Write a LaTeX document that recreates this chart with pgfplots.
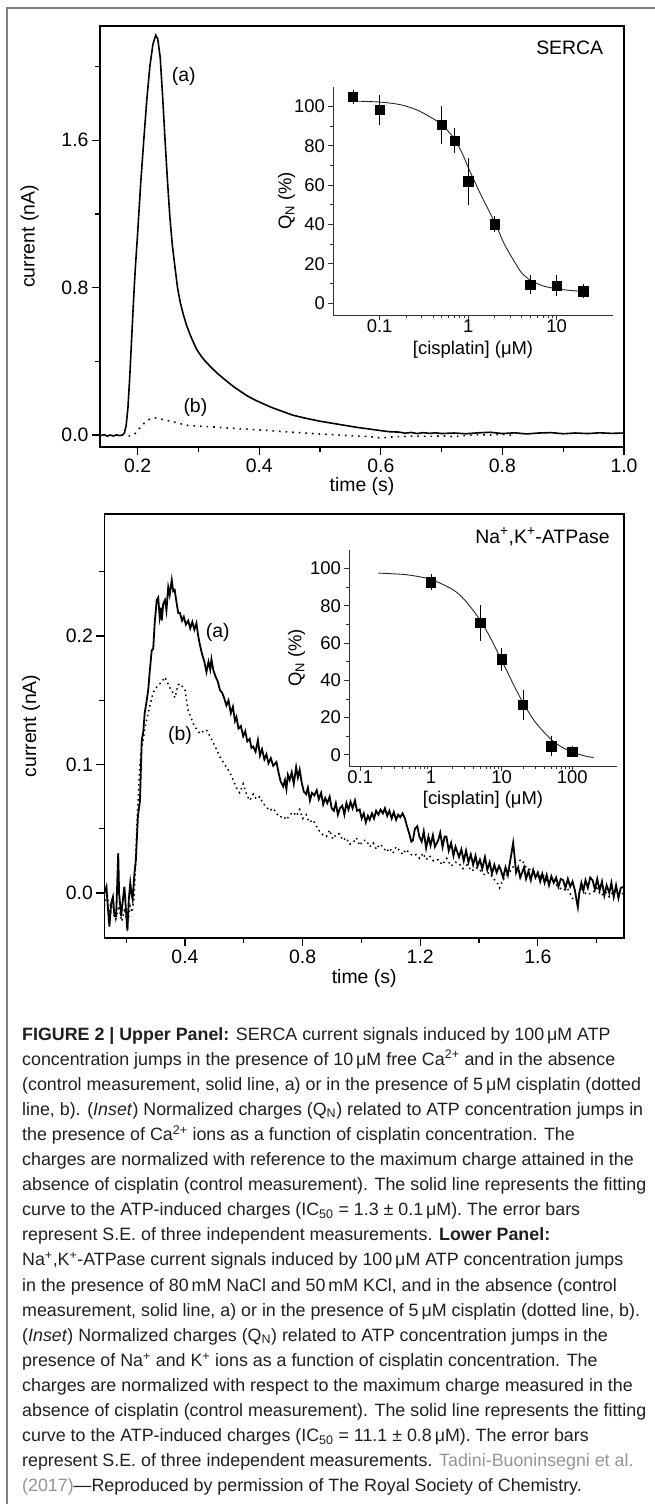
\documentclass[border=0pt]{standalone}
\usepackage{fontspec}
\setmainfont{Liberation Sans}
\usepackage{pgfplots}
\pgfplotsset{compat=1.18}

\newcommand\pf{\fontsize{19.5}{21}\selectfont}
\newcommand\insf{\fontsize{18.5}{20}\selectfont}
\newcommand\cf{\fontsize{17.9}{25}\selectfont}
\colorlet{captxt}{black!88}
\colorlet{linkgray}{black!42}

\pgfplotsset{
  mainax/.style={scale only axis, anchor=north west,
    axis line style={line width=1.3bp},
    tick align=outside, tick pos=left,
    major tick length=8bp, minor tick length=5bp,
    every tick/.style={line width=1.2bp,black},
    tick label style={font=\pf},
    label style={font=\pf},
    /pgf/number format/assume math mode=true,
    /pgf/number format/fixed,
    /pgf/number format/fixed zerofill,
    /pgf/number format/precision=1},
  inset/.style={scale only axis, anchor=north west,
    axis lines*=left,
    axis line style={line width=0.9bp,black!80},
    tick align=outside,
    major tick length=5bp, minor tick length=3bp,
    every tick/.style={line width=0.8bp,black!80},
    tick label style={font=\insf},
    xticklabel shift=-4bp,
    label style={font=\insf},
    /pgf/number format/assume math mode=true,
    ymin=-6, ymax=110,
    ytick={0,20,40,60,80,100}, minor ytick={10,30,50,70,90}},
  qmarks/.style={only marks, mark=square*, mark size=4.7bp, black,
    error bars/.cd, y dir=both, y explicit,
    error bar style={line width=0.8bp,black},
    error mark options={mark size=4bp,line width=0.8bp,black}},
}

\begin{document}
\begin{tikzpicture}[x=1bp,y=1bp]
\useasboundingbox (0,0) rectangle (655,-1504);
\draw[black!50, line width=1.5bp] (7,-1504) -- (7,-8) -- (655,-8);

% ---------- upper panel ----------
\begin{axis}[mainax, at={(100bp,-26bp)}, width=524bp, height=421bp,
  xmin=0.138, xmax=1.0, ymin=-0.065, ymax=2.22,
  xtick={0.2,0.4,0.6,0.8,1.0}, minor xtick={0.3,0.5,0.7,0.9},
  ytick={0,0.8,1.6}, minor ytick={0.4,1.2,2.0},
  xlabel={time (s)}, xlabel style={at={(axis description cs:0.5,-0.094)},anchor=center},
  ylabel={current (nA)}, ylabel style={at={(axis description cs:-0.1345,0.5)},anchor=center}]
\addplot[black, line width=1.6bp] coordinates {
(0.138,-0.004)(0.145,0.002)(0.150,-0.006)(0.155,0.000)(0.160,-0.005)(0.165,0.001)
(0.170,-0.003)(0.175,0.000)(0.178,0.01)(0.181,0.05)(0.184,0.15)(0.187,0.32)(0.190,0.52)
(0.193,0.72)(0.196,0.90)(0.200,1.10)(0.205,1.37)(0.210,1.60)(0.215,1.82)(0.220,2.00)
(0.225,2.12)(0.2297,2.17)(0.233,2.15)(0.237,2.05)(0.241,1.84)(0.245,1.60)(0.249,1.38)
(0.253,1.18)(0.257,1.03)(0.261,0.92)(0.2655,0.80)(0.270,0.72)(0.275,0.655)(0.280,0.60)
(0.285,0.555)(0.290,0.515)(0.297,0.465)(0.304,0.43)(0.310,0.405)(0.320,0.37)(0.330,0.338)
(0.340,0.31)(0.350,0.283)(0.358,0.262)(0.370,0.235)(0.380,0.213)(0.393,0.19)(0.405,0.172)
(0.420,0.15)(0.435,0.132)(0.455,0.108)(0.475,0.092)(0.500,0.075)(0.520,0.064)(0.538,0.054)
(0.560,0.042)(0.580,0.033)(0.600,0.024)(0.614,0.018)(0.63,0.016)(0.64,0.010)(0.65,0.014)
(0.66,0.008)(0.67,0.013)(0.68,0.009)(0.69,0.012)(0.70,0.008)(0.72,0.011)(0.74,0.007)
(0.76,0.012)(0.78,0.015)(0.80,0.008)(0.82,0.012)(0.84,0.006)(0.86,0.011)(0.88,0.013)
(0.90,0.007)(0.92,0.011)(0.94,0.008)(0.96,0.012)(0.98,0.009)(1.0,0.011)};
\addplot[black, line width=1.6bp, dash pattern=on 1.6bp off 5bp] coordinates {
(0.185,-0.005)(0.19,-0.004)(0.195,0.005)(0.20,0.025)(0.205,0.045)(0.21,0.062)(0.215,0.076)
(0.22,0.086)(0.225,0.091)(0.23,0.093)(0.235,0.09)(0.24,0.085)(0.25,0.078)(0.26,0.07)
(0.27,0.062)(0.283,0.052)(0.30,0.048)(0.32,0.045)(0.34,0.04)(0.36,0.036)(0.386,0.03)
(0.41,0.026)(0.44,0.018)(0.47,0.012)(0.497,0.006)(0.52,0.002)(0.55,-0.004)(0.58,-0.008)
(0.60,-0.016)(0.62,-0.01)(0.65,-0.006)(0.68,-0.008)(0.70,-0.004)(0.72,-0.009)(0.74,-0.002)
(0.76,0.002)(0.78,0.0)(0.80,0.004)(0.82,-0.003)};
\node[anchor=east, font=\pf] at (axis description cs:0.967,0.948) {SERCA};
\node[font=\pf] at (axis description cs:0.160,0.880) {(a)};
\node[font=\pf] at (axis description cs:0.182,0.094) {(b)};
\end{axis}

\begin{semilogxaxis}[inset, at={(333.3bp,-86.7bp)}, width=279.5bp, height=228.3bp,
  log ticks with fixed point,
  xmin=0.03, xmax=43, xtick={0.1,1,10},
  xlabel={[cisplatin] (μM)}, xlabel style={at={(axis description cs:0.5,-0.152)},anchor=center},
  ylabel={Q\textsubscript{N} (\%)}, ylabel style={at={(axis description cs:-0.167,0.5)},anchor=center}]
\addplot[black!85, line width=0.9bp, smooth] coordinates {
(0.05,102.7)(0.1,102.2)(0.17,100.9)(0.26,98.3)(0.36,95.0)(0.5,90.8)(0.7,83.5)(0.88,75.0)
(1.0,69.0)(1.36,56.0)(1.76,46.0)(2.1,39.0)(2.5,31.0)(3.0,24.5)(3.5,19.5)(4,15.5)(5,11.8)
(7,8.8)(10,7.3)(14,6.5)(20,6.0)};
\addplot[qmarks] table[x=x, y=y, y error=e] {
x y e
0.05 104.8 1.5
0.1 98.3 5.5
0.5 90.6 7.7
0.7 82.6 4.5
1 61.9 9.8
2 40.2 2
5 9.5 3
10 9.0 3.3
20 6.0 1.5
};
\end{semilogxaxis}

% ---------- lower panel ----------
\begin{axis}[mainax, at={(104.4bp,-514bp)}, width=519.6bp, height=424bp,
  xmin=0.126, xmax=1.893, ymin=-0.035, ymax=0.295,
  xtick={0.4,0.8,1.2,1.6}, minor xtick={0.2,0.6,1.0,1.4,1.8},
  ytick={0,0.1,0.2}, minor ytick={0.05,0.15,0.25},
  xlabel={time (s)}, xlabel style={at={(axis description cs:0.5,-0.095)},anchor=center},
  ylabel={current (nA)}, ylabel style={at={(axis description cs:-0.1413,0.5)},anchor=center}]
\addplot[black, line width=1.8bp] coordinates {
(0.126,0.000)(0.133,0.005)(0.138,-0.012)(0.143,-0.026)(0.149,-0.008)(0.155,-0.003)(0.160,-0.018)
(0.166,-0.018)(0.170,0.010)(0.173,0.031)(0.176,0.000)(0.183,-0.018)(0.189,-0.005)(0.194,0.005)
(0.199,-0.012)(0.204,-0.029)(0.209,-0.005)(0.214,0.008)(0.218,0.0)(0.222,-0.005)(0.228,0.015)
(0.233,0.026)(0.240,0.06)(0.247,0.072)(0.253,0.119)(0.258,0.125)(0.263,0.14)(0.270,0.150)
(0.275,0.158)(0.280,0.172)(0.287,0.189)(0.292,0.19)(0.297,0.21)(0.304,0.228)(0.309,0.23)
(0.314,0.215)(0.318,0.222)(0.321,0.212)(0.326,0.225)(0.332,0.228)(0.337,0.22)(0.343,0.238)
(0.348,0.232)(0.355,0.2436)(0.360,0.235)(0.365,0.236)(0.372,0.225)(0.377,0.218)(0.383,0.218)
(0.390,0.212)(0.396,0.215)(0.403,0.209)(0.411,0.212)(0.418,0.206)(0.425,0.211)(0.432,0.205)
(0.439,0.21)(0.445,0.20)(0.451,0.193)(0.458,0.186)(0.466,0.18)(0.473,0.172)(0.480,0.18)
(0.486,0.174)(0.490,0.182)(0.496,0.174)(0.503,0.169)(0.511,0.165)(0.519,0.158)(0.526,0.156)
(0.533,0.152)(0.541,0.146)(0.548,0.150)(0.556,0.14)(0.563,0.145)(0.570,0.134)(0.575,0.137)
(0.582,0.128)(0.590,0.13)(0.598,0.122)(0.605,0.126)(0.612,0.118)(0.620,0.12)(0.626,0.113)
(0.632,0.114)(0.640,0.11)(0.648,0.119)(0.655,0.107)(0.662,0.112)(0.670,0.104)(0.677,0.108)
(0.684,0.101)(0.692,0.105)(0.700,0.099)(0.711,0.102)(0.718,0.094)(0.725,0.087)(0.734,0.083)
(0.740,0.088)(0.745,0.081)(0.750,0.092)(0.756,0.088)(0.763,0.094)(0.770,0.085)(0.778,0.098)
(0.784,0.09)(0.790,0.096)(0.797,0.086)(0.804,0.079)(0.812,0.077)(0.818,0.082)(0.825,0.072)
(0.832,0.078)(0.840,0.076)(0.848,0.080)(0.855,0.073)(0.863,0.078)(0.870,0.069)(0.877,0.074)
(0.884,0.070)(0.892,0.075)(0.899,0.066)(0.906,0.064)(0.913,0.070)(0.920,0.061)(0.927,0.066)
(0.935,0.068)(0.942,0.061)(0.949,0.070)(0.956,0.065)(0.963,0.071)(0.970,0.066)(0.978,0.072)
(0.985,0.064)(0.994,0.065)(1.001,0.058)(1.008,0.062)(1.015,0.055)(1.022,0.060)(1.028,0.057)
(1.036,0.062)(1.043,0.058)(1.050,0.064)(1.058,0.061)(1.065,0.065)(1.073,0.062)(1.080,0.066)
(1.088,0.060)(1.095,0.064)(1.103,0.058)(1.110,0.063)(1.118,0.057)(1.125,0.061)(1.132,0.059)
(1.140,0.062)(1.148,0.058)(1.155,0.052)(1.163,0.046)(1.170,0.040)(1.175,0.041)(1.182,0.050)
(1.190,0.052)(1.197,0.044)(1.205,0.040)(1.212,0.048)(1.220,0.035)(1.228,0.044)(1.235,0.037)
(1.243,0.045)(1.250,0.036)(1.261,0.041)(1.268,0.047)(1.276,0.036)(1.283,0.044)(1.289,0.044)
(1.297,0.033)(1.305,0.039)(1.313,0.029)(1.320,0.036)(1.332,0.028)(1.340,0.034)(1.348,0.025)
(1.356,0.033)(1.364,0.024)(1.372,0.030)(1.380,0.022)(1.388,0.029)(1.395,0.021)(1.403,0.026)
(1.411,0.019)(1.420,0.028)(1.428,0.018)(1.436,0.024)(1.444,0.015)(1.452,0.022)(1.460,0.016)
(1.468,0.021)(1.474,0.018)(1.482,0.012)(1.490,0.020)(1.498,0.014)(1.506,0.025)(1.511,0.032)
(1.516,0.039)(1.521,0.028)(1.526,0.016)(1.533,0.020)(1.540,0.012)(1.545,0.015)(1.553,0.020)
(1.560,0.011)(1.568,0.017)(1.576,0.010)(1.584,0.018)(1.592,0.012)(1.600,0.016)(1.608,0.009)
(1.615,0.015)(1.623,0.008)(1.630,0.014)(1.638,0.006)(1.646,0.013)(1.654,0.008)(1.662,0.012)
(1.670,0.005)(1.678,0.011)(1.686,0.010)(1.694,0.004)(1.702,0.011)(1.710,0.005)(1.718,0.009)
(1.726,0.002)(1.732,-0.006)(1.736,-0.011)(1.741,0.000)(1.748,0.008)(1.755,0.002)(1.762,0.010)
(1.770,0.004)(1.778,0.012)(1.786,0.010)(1.794,0.003)(1.802,0.011)(1.810,0.002)(1.818,0.009)
(1.826,-0.002)(1.834,0.006)(1.843,0.000)(1.850,0.008)(1.858,-0.003)(1.866,0.006)(1.874,-0.004)
(1.882,0.004)(1.892,0.005)};
\addplot[black, line width=1.5bp, dash pattern=on 1.5bp off 3.5bp] coordinates {
(0.126,-0.01)(0.135,0.0)(0.145,-0.018)(0.155,-0.006)(0.165,-0.02)(0.175,-0.01)(0.185,-0.022)
(0.195,-0.012)(0.205,-0.026)(0.213,-0.01)(0.22,-0.015)(0.226,-0.005)(0.232,0.02)(0.236,0.05)
(0.239,0.065)(0.242,0.08)(0.247,0.10)(0.252,0.112)(0.258,0.119)(0.265,0.13)(0.275,0.140)
(0.283,0.148)(0.292,0.156)(0.303,0.160)(0.315,0.163)(0.323,0.165)(0.332,0.168)(0.340,0.164)
(0.348,0.160)(0.355,0.158)(0.360,0.155)(0.366,0.152)(0.372,0.158)(0.377,0.162)(0.383,0.163)
(0.390,0.161)(0.395,0.160)(0.40,0.158)(0.405,0.150)(0.411,0.142)(0.418,0.138)(0.428,0.132)
(0.438,0.128)(0.451,0.124)(0.462,0.126)(0.473,0.127)(0.485,0.122)(0.496,0.117)(0.507,0.112)
(0.519,0.106)(0.530,0.102)(0.541,0.098)(0.552,0.094)(0.564,0.088)(0.575,0.082)(0.586,0.078)
(0.598,0.085)(0.609,0.077)(0.62,0.072)(0.632,0.077)(0.643,0.073)(0.654,0.075)(0.665,0.070)
(0.677,0.067)(0.688,0.064)(0.70,0.066)(0.711,0.062)(0.723,0.059)(0.734,0.06)(0.745,0.057)
(0.757,0.061)(0.768,0.063)(0.779,0.06)(0.79,0.065)(0.80,0.058)(0.812,0.061)(0.823,0.055)
(0.835,0.057)(0.847,0.052)(0.858,0.048)(0.870,0.045)(0.881,0.044)(0.892,0.049)(0.903,0.042)
(0.915,0.046)(0.926,0.046)(0.937,0.041)(0.948,0.043)(0.960,0.038)(0.971,0.039)(0.983,0.043)
(0.994,0.037)(1.006,0.041)(1.017,0.041)(1.028,0.036)(1.040,0.039)(1.051,0.034)(1.062,0.038)
(1.073,0.036)(1.085,0.032)(1.096,0.035)(1.107,0.031)(1.118,0.036)(1.13,0.033)(1.141,0.030)
(1.152,0.034)(1.163,0.031)(1.175,0.029)(1.186,0.030)(1.198,0.027)(1.21,0.031)(1.22,0.026)
(1.232,0.029)(1.245,0.025)(1.261,0.026)(1.275,0.022)(1.29,0.027)(1.305,0.021)(1.32,0.024)
(1.332,0.023)(1.345,0.019)(1.36,0.022)(1.375,0.017)(1.39,0.02)(1.403,0.018)(1.42,0.014)
(1.435,0.016)(1.45,0.011)(1.462,0.008)(1.47,0.004)(1.48,0.010)(1.495,0.014)(1.51,0.018)
(1.525,0.024)(1.545,0.026)(1.56,0.02)(1.575,0.018)(1.59,0.016)(1.605,0.012)(1.615,0.015)
(1.63,0.010)(1.645,0.012)(1.66,0.007)(1.67,0.005)(1.685,0.002)(1.70,0.004)(1.72,-0.005)
(1.735,-0.002)(1.75,0.003)(1.765,-0.001)(1.786,0.0)(1.80,0.004)(1.815,-0.002)(1.83,0.001)
(1.843,-0.003)(1.86,0.002)(1.875,-0.002)(1.892,0.0)};
\node[anchor=east, font=\pf] at (axis description cs:0.979,0.946) {Na\textsuperscript{+},K\textsuperscript{+}-ATPase};
\node[font=\pf] at (axis description cs:0.218,0.720) {(a)};
\node[font=\pf] at (axis description cs:0.1455,0.478) {(b)};
\end{axis}

\begin{semilogxaxis}[inset, at={(349.3bp,-550bp)}, width=267.4bp, height=216bp,
  log ticks with fixed point,
  xmin=0.07, xmax=424, xtick={0.1,1,10,100},
  xlabel={[cisplatin] (μM)}, xlabel style={at={(axis description cs:0.5,-0.157)},anchor=center},
  ylabel={Q\textsubscript{N} (\%)}, ylabel style={at={(axis description cs:-0.197,0.5)},anchor=center}]
\addplot[black!85, line width=0.9bp, smooth] coordinates {
(0.18,97.6)(0.3,97.2)(0.5,96.5)(1,94.2)(2,88.9)(3,83.2)(5,72.2)(7,62.5)(10,50.8)(15,37.1)
(20,28.1)(30,17.5)(50,8.3)(70,4.3)(100,1.5)(150,-0.6)(200,-1.5)};
\addplot[qmarks] table[x=x, y=y, y error=e] {
x y e
1 92.8 2
5 70.9 7.5
10 51.3 4
20 26.9 6
50 4.7 3.4
100 1.8 1
};
\end{semilogxaxis}

% ---------- caption ----------
\begin{scope}[every node/.style={anchor=base west, inner sep=0pt, font=\cf, text=captxt}]
\node at (22,-1040.0) {\textbf{FIGURE 2 | Upper Panel:} SERCA current signals induced by 100\,μM ATP};
\node at (22,-1065.1) {concentration jumps in the presence of 10\,μM free Ca\textsuperscript{2+} and in the absence};
\node at (22,-1090.2) {(control measurement, solid line, a) or in the presence of 5\,μM cisplatin (dotted};
\node at (22,-1115.3) {line, b). (\textit{Inset}) Normalized charges (Q\textsubscript{N}) related to ATP concentration jumps in};
\node at (22,-1140.4) {the presence of Ca\textsuperscript{2+} ions as a function of cisplatin concentration. The};
\node at (22,-1165.5) {charges are normalized with reference to the maximum charge attained in the};
\node at (22,-1190.6) {absence of cisplatin (control measurement). The solid line represents the fitting};
\node at (22,-1215.7) {curve to the ATP-induced charges (IC\textsubscript{50} = 1.3 ± 0.1\,μM). The error bars};
\node at (22,-1240.8) {represent S.E. of three independent measurements. \textbf{Lower Panel:}};
\node at (22,-1265.9) {Na\textsuperscript{+},K\textsuperscript{+}-ATPase current signals induced by 100\,μM ATP concentration jumps};
\node at (22,-1291.0) {in the presence of 80\,mM NaCl and 50\,mM KCl, and in the absence (control};
\node at (22,-1316.1) {measurement, solid line, a) or in the presence of 5\,μM cisplatin (dotted line, b).};
\node at (22,-1341.2) {(\textit{Inset}) Normalized charges (Q\textsubscript{N}) related to ATP concentration jumps in the};
\node at (22,-1366.3) {presence of Na\textsuperscript{+} and K\textsuperscript{+} ions as a function of cisplatin concentration. The};
\node at (22,-1391.4) {charges are normalized with respect to the maximum charge measured in the};
\node at (22,-1416.5) {absence of cisplatin (control measurement). The solid line represents the fitting};
\node at (22,-1441.6) {curve to the ATP-induced charges (IC\textsubscript{50} = 11.1 ± 0.8\,μM). The error bars};
\node at (22,-1466.7) {represent S.E. of three independent measurements. \textcolor{linkgray}{Tadini-Buoninsegni et al.}};
\node at (22,-1491.8) {\textcolor{linkgray}{(2017)}—Reproduced by permission of The Royal Society of Chemistry.};
\end{scope}
\end{tikzpicture}
\end{document}
